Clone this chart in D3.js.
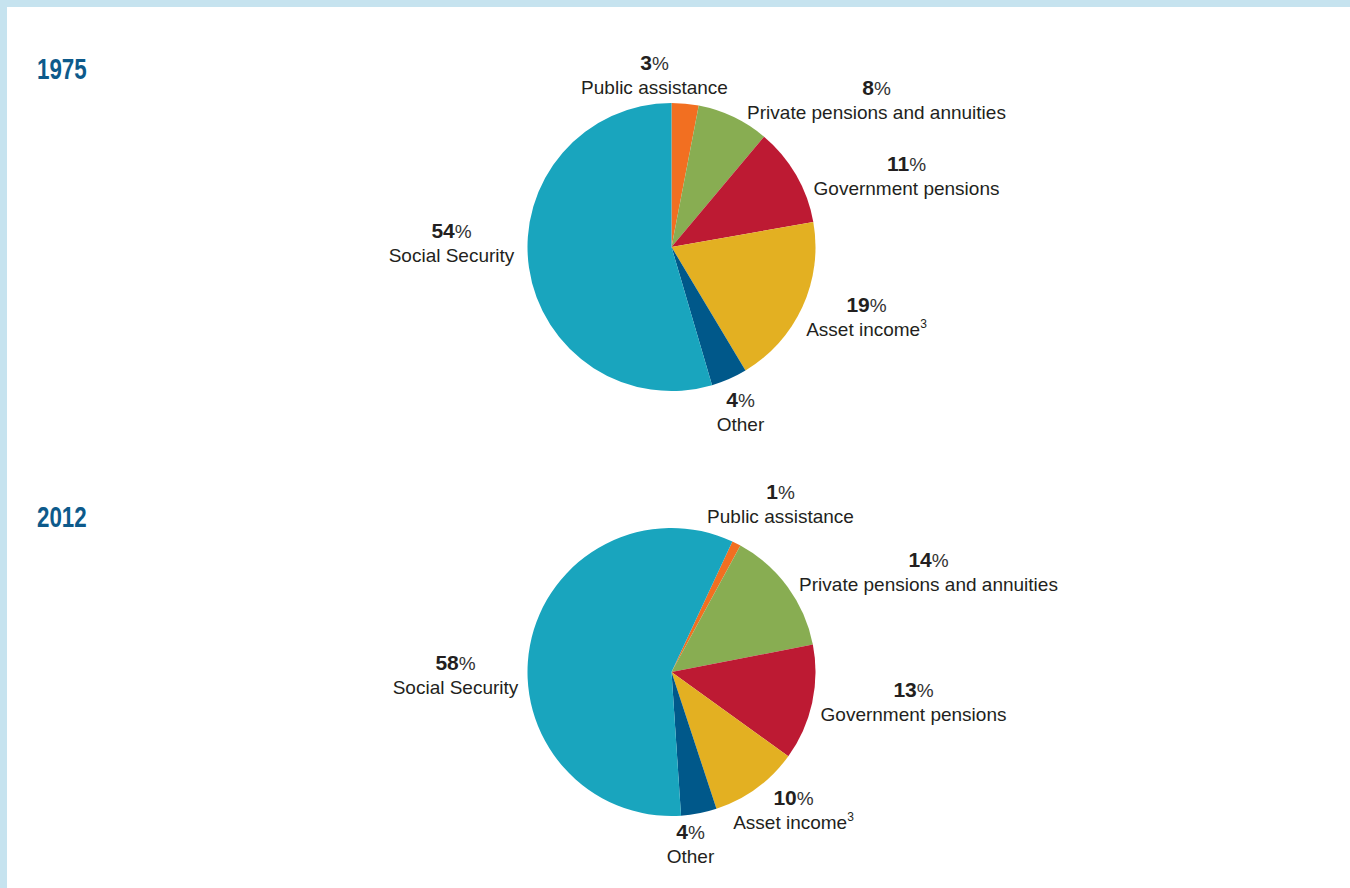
<!DOCTYPE html>
<html>
<head>
<meta charset="utf-8">
<script src="https://cdn.jsdelivr.net/npm/d3@7"></script>
<style>
  body { margin: 0; background: #fff; }
  svg { display: block; }
  .lbl { font-family: "Liberation Sans", Arial, sans-serif; fill: #231f20; }
</style>
</head>
<body>
<svg id="chart" width="1350" height="888"></svg>
<script>
// data
var categories = ["Public assistance", "Private pensions and annuities", "Government pensions",
                  "Asset income", "Other", "Social Security"];
var values1975 = [3, 8, 11, 19, 4, 54];
var values2012 = [1, 14, 13, 10, 4, 58];
var years = ["1975", "2012"];
var sliceColors = ["#f26f21", "#88ad52", "#bd1a33", "#e3b022", "#00588a", "#19a5be"];
var footnotes = ["", "", "", "3", "", ""];

// layout (positions of each pie and label offsets from its centre)
var pies = [
  {year: years[0], values: values1975, cx: 671.5, cy: 247, rotate: 0, titleY: 79,
   labels: [[-17, -177], [205, -152], [235, -76], [195, 65], [69, 160], [-220, -9]]},
  {year: years[1], values: values2012, cx: 671.5, cy: 672, rotate: 25, titleY: 527,
   labels: [[109, -173], [257, -105], [242, 25], [122, 133], [19, 167], [-216, -2]]}
];
var radius = 144;

var svg = d3.select("#chart");

// light blue frame on top and left
svg.append("rect").attr("x", 0).attr("y", 0).attr("width", 1350).attr("height", 7).attr("fill", "#c6e3ef");
svg.append("rect").attr("x", 0).attr("y", 0).attr("width", 7).attr("height", 888).attr("fill", "#c6e3ef");

var color = d3.scaleOrdinal().domain(categories).range(sliceColors);
var arc = d3.arc().innerRadius(0).outerRadius(radius);

pies.forEach(function (p) {
  var start = p.rotate * Math.PI / 180;
  var pie = d3.pie().sort(null).value(function (d) { return d.value; })
    .startAngle(start).endAngle(start + 2 * Math.PI);

  var rows = categories.map(function (c, i) { return {cat: c, value: p.values[i], i: i}; });

  // year title
  svg.append("text")
    .attr("transform", "translate(37," + p.titleY + ") scale(0.77,1)")
    .attr("font-family", "Liberation Sans, Arial, sans-serif")
    .attr("font-weight", "bold")
    .attr("font-size", 29)
    .attr("fill", "#0d5a8b")
    .text(p.year);

  var g = svg.append("g").attr("transform", "translate(" + p.cx + "," + p.cy + ")");

  g.selectAll("path.slice")
    .data(pie(rows))
    .enter().append("path")
      .attr("class", "slice")
      .attr("d", arc)
      .attr("fill", function (d) { return color(d.data.cat); });

  var lab = g.selectAll("g.label")
    .data(rows)
    .enter().append("g")
      .attr("class", "label")
      .attr("transform", function (d) {
        var o = p.labels[d.i];
        return "translate(" + o[0] + "," + o[1] + ")";
      });

  var pct = lab.append("text")
    .attr("class", "lbl")
    .attr("text-anchor", "middle")
    .attr("font-size", 21);
  pct.append("tspan").attr("font-weight", "bold").text(function (d) { return d.value; });
  pct.append("tspan").attr("font-size", 19).attr("fill", "#333").text("%");

  var name = lab.append("text")
    .attr("class", "lbl")
    .attr("text-anchor", "middle")
    .attr("y", 24)
    .attr("font-size", 19);
  name.append("tspan").text(function (d) { return d.cat; });
  name.append("tspan")
    .attr("font-size", 12)
    .attr("dy", -8)
    .text(function (d) { return footnotes[d.i]; });
});
</script>
</body>
</html>
